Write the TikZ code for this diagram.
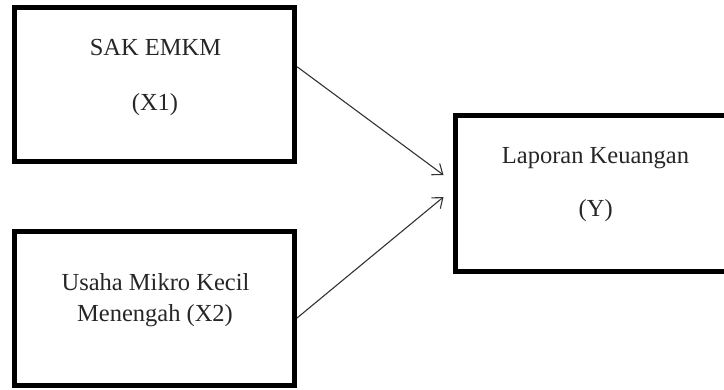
\documentclass[tikz,border=0pt]{standalone}
\usepackage{fontspec}
\setmainfont{Liberation Serif}
\usetikzlibrary{arrows.meta,calc}
\begin{document}
\begin{tikzpicture}[x=1pt,y=-1pt,
  box/.style={draw=black,line width=5pt,inner sep=0pt,rectangle},
  lbl/.style={anchor=base,inner sep=0pt,font=\fontsize{24.5}{28}\selectfont,text=black!85},
  conn/.style={draw=black!80,line width=1.1pt,-{Straight Barb[length=9pt,width=14pt,line width=1.1pt]}}]
\useasboundingbox (0,0) rectangle (724,389);
\clip (0,0) rectangle (724,389);
\node[box,minimum width=280pt,minimum height=154pt] (x1) at (154.5,84.5) {};
\node[box,minimum width=280pt,minimum height=153.5pt] (x2) at (154.5,308.25) {};
\node[box,minimum width=281pt,minimum height=156pt] (y) at (595.5,193) {};
\node[lbl] (t1) at (155.5,55) {SAK EMKM};
\node[lbl] (t2) at (155,110) {(X1)};
\node[lbl] (t3) at (155.5,290) {Usaha Mikro Kecil};
\node[lbl] (t4) at (155,321.7) {Menengah (X2)};
\node[lbl] (t5) at (595.5,163.3) {Laporan Keuangan};
\node[lbl] (t6) at (595.7,216.7) {(Y)};
\draw[conn] ($(x1.east)+(0,-17.8)$) -- ($(y.west)+(-9,-18)$);
\draw[conn] ($(x2.east)+(0,9.75)$) -- ($(y.west)+(-9,4)$);
\end{tikzpicture}
\end{document}
